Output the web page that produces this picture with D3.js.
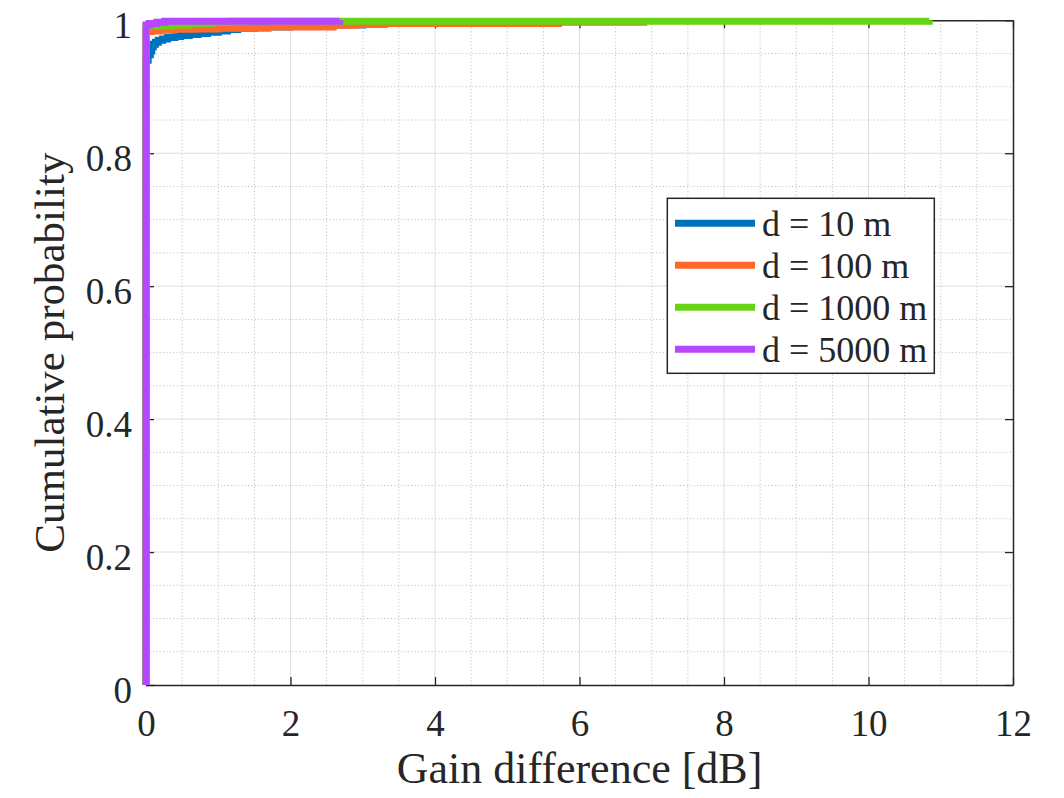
<!DOCTYPE html>
<html lang="en">
<head>
<meta charset="utf-8">
<title>CDF of gain difference</title>
<script src="https://cdn.jsdelivr.net/npm/d3@7"></script>
<style>
  html, body { margin: 0; padding: 0; background: #fff; }
  svg text { font-family: "Liberation Serif", "Times New Roman", serif; fill: #262626; }
  .grid-major line { stroke: #dedede; stroke-width: 1; }
  .grid-minor line { stroke: #c4c4c4; stroke-width: 1; stroke-dasharray: 1.2 2.2; }
  .series { fill: none; stroke-width: 7; stroke-linejoin: miter; stroke-linecap: butt; }
</style>
</head>
<body>
<script>
var legendLabels = ["d = 10 m", "d = 100 m", "d = 1000 m", "d = 5000 m"];
var colors = ["#0072bd", "#ff6a2b", "#64d413", "#b746ff"];

var gain10 = [0, 0, 0.03, 0.06, 0.08, 0.1, 0.13, 0.17, 0.23, 0.3, 0.4, 0.48, 0.6, 0.72, 0.85, 1.0, 1.13, 1.27, 1.5, 2.0, 3.0, 4.5];
var prob10 = [0, 0.94, 0.948, 0.954, 0.96, 0.964, 0.967, 0.970, 0.972, 0.974, 0.9755, 0.977, 0.9785, 0.980, 0.982, 0.984, 0.986, 0.988, 0.990, 0.993, 0.996, 1];

var gain100 = [0, 0, 0.08, 0.2, 0.37, 0.7, 1.0, 1.69, 2.59, 2.9, 3.3, 5.71, 6.89];
var prob100 = [0, 0.983, 0.984, 0.985, 0.9865, 0.987, 0.988, 0.990, 0.9925, 0.9935, 0.995, 0.997, 1];

var gain1000 = [0, 0, 0.35, 0.6, 0.9, 1.16, 10.84];
var prob1000 = [0, 0.991, 0.993, 0.995, 0.997, 0.9985, 1];

var gain5000 = [0, 0, 0.05, 0.15, 0.26, 2.68];
var prob5000 = [0, 0.993, 0.995, 0.997, 0.9985, 1];

var xTicks = [0, 2, 4, 6, 8, 10, 12];
var yTicks = [0, 0.2, 0.4, 0.6, 0.8, 1];

var series = [
  { gain: gain10, prob: prob10 },
  { gain: gain100, prob: prob100 },
  { gain: gain1000, prob: prob1000 },
  { gain: gain5000, prob: prob5000 }
];

// ---- layout ----
var width = 1064, height = 798;
var plotLeft = 146, plotRight = 1013, plotTop = 20.3, plotBottom = 685;

var svg = d3.select("body").append("svg")
    .attr("width", width)
    .attr("height", height);

var x = d3.scaleLinear().domain([0, 12]).range([plotLeft, plotRight]);
var y = d3.scaleLinear().domain([0, 1]).range([plotBottom, plotTop]);

// minor grid: every 0.5 in x, every 0.05 in y
var xMinor = d3.range(1, 24).map(function(i){ return i * 0.5; })
    .filter(function(v, i){ return (i + 1) % 4 !== 0; });
var yMinor = d3.range(1, 20).map(function(i){ return i * 0.05; })
    .filter(function(v, i){ return (i + 1) % 4 !== 0; });

var gMinor = svg.append("g").attr("class", "grid-minor");
gMinor.selectAll("line.vx").data(xMinor).enter().append("line")
    .attr("x1", function(d){ return x(d); }).attr("x2", function(d){ return x(d); })
    .attr("y1", plotBottom).attr("y2", plotTop);
gMinor.selectAll("line.hy").data(yMinor).enter().append("line")
    .attr("y1", function(d){ return y(d); }).attr("y2", function(d){ return y(d); })
    .attr("x1", plotLeft).attr("x2", plotRight);

var gMajor = svg.append("g").attr("class", "grid-major");
gMajor.selectAll("line.vx").data(xTicks.slice(1, -1)).enter().append("line")
    .attr("x1", function(d){ return x(d); }).attr("x2", function(d){ return x(d); })
    .attr("y1", plotBottom).attr("y2", plotTop);
gMajor.selectAll("line.hy").data(yTicks.slice(1, -1)).enter().append("line")
    .attr("y1", function(d){ return y(d); }).attr("y2", function(d){ return y(d); })
    .attr("x1", plotLeft).attr("x2", plotRight);

// axes (ticks pointing inward, box on)
var tickLen = 8;
var axisColor = "#262626";
var xAxis = svg.append("g").attr("transform", "translate(0," + plotBottom + ")")
    .call(d3.axisBottom(x).tickValues(xTicks).tickSize(-tickLen).tickSizeOuter(0).tickFormat(d3.format("d")));
var xTop = svg.append("g").attr("transform", "translate(0," + plotTop + ")")
    .call(d3.axisTop(x).tickValues(xTicks).tickSize(-tickLen).tickSizeOuter(0).tickFormat(""));
var yAxis = svg.append("g").attr("transform", "translate(" + plotLeft + ",0)")
    .call(d3.axisLeft(y).tickValues(yTicks).tickSize(-tickLen).tickSizeOuter(0).tickFormat(function(d){ return String(d); }));
var yRight = svg.append("g").attr("transform", "translate(" + plotRight + ",0)")
    .call(d3.axisRight(y).tickValues(yTicks).tickSize(-tickLen).tickSizeOuter(0).tickFormat(""));

[xAxis, xTop, yAxis, yRight].forEach(function(g){
  g.attr("font-size", null).attr("font-family", null);
  g.select(".domain").attr("stroke", axisColor).attr("stroke-width", 1.5);
  g.selectAll(".tick line").attr("stroke", axisColor).attr("stroke-width", 1.3);
});

xAxis.selectAll(".tick text")
    .attr("y", 0).attr("dy", 51)
    .style("font-size", "37px").style("fill", axisColor);
yAxis.selectAll(".tick text")
    .attr("x", -14).attr("dy", 17)
    .style("font-size", "37px").style("fill", axisColor);

// axis labels
svg.append("text")
    .attr("x", (plotLeft + plotRight) / 2).attr("y", 783)
    .attr("text-anchor", "middle").style("font-size", "44px")
    .text("Gain difference [dB]");
svg.append("text")
    .attr("transform", "translate(64," + ((plotTop + plotBottom) / 2) + ") rotate(-90)")
    .attr("text-anchor", "middle").style("font-size", "43px")
    .text("Cumulative probability");

// CDF stairs
var line = d3.line()
    .x(function(d){ return x(d[0]); })
    .y(function(d){ return y(d[1]); })
    .curve(d3.curveStepAfter);

svg.append("g").selectAll("path")
    .data(series)
    .enter().append("path")
    .attr("class", "series")
    .attr("stroke", function(d, i){ return colors[i]; })
    .attr("d", function(d){ return line(d3.zip(d.gain, d.prob)); });

// legend
var lg = svg.append("g");
lg.append("rect")
    .attr("x", 667.3).attr("y", 198.3).attr("width", 267).attr("height", 175)
    .attr("fill", "#fff").attr("stroke", axisColor).attr("stroke-width", 1.5);
var item = lg.selectAll("g.item").data(legendLabels).enter().append("g")
    .attr("transform", function(d, i){ return "translate(0," + (223.3 + i * 42) + ")"; });
item.append("line")
    .attr("x1", 675).attr("x2", 755).attr("y1", 0).attr("y2", 0)
    .attr("stroke", function(d, i){ return colors[i]; })
    .attr("stroke-width", 7);
item.append("text")
    .attr("x", 762).attr("y", 0).attr("dy", 13)
    .style("font-size", "36px")
    .text(function(d){ return d; });
</script>
</body>
</html>
